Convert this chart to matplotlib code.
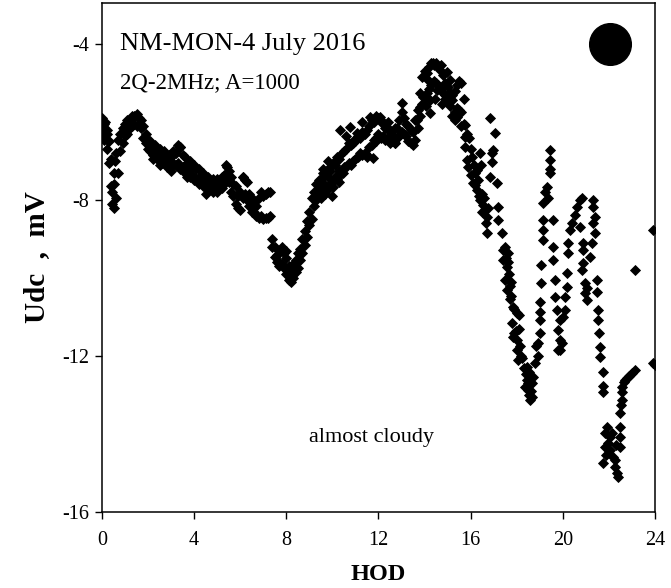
import numpy as np
import matplotlib
matplotlib.use('Agg')
import matplotlib.pyplot as plt

plt.rcParams['font.family'] = 'Liberation Serif'
plt.rcParams['axes.unicode_minus'] = False

# dense part of the record, read every 0.1 h: upper and lower edge of the band
dense_hod = np.round(np.arange(0, 15.75, 0.1), 1)
udc_hi = [-5.9, -6.05, -6.2, -6.5, -6.95, -7.3, -6.8, -6.45, -6.3, -6.15,
          -6.05, -5.95, -5.95, -5.85, -5.85, -5.8, -5.9, -5.95, -6.1, -6.3,
          -6.45, -6.5, -6.65, -6.6, -6.75, -6.7, -6.8, -6.75, -6.9, -6.85,
          -6.9, -6.75, -6.8, -6.6, -6.65, -6.85, -6.9, -7.05, -7.0, -7.15,
          -7.1, -7.2, -7.2, -7.35, -7.3, -7.4, -7.4, -7.5, -7.45, -7.55,
          -7.5, -7.55, -7.4, -7.35, -7.1, -7.25, -7.4, -7.6, -7.65, -7.9,
          -7.8, -7.4, -7.5, -7.55, -7.85, -7.95, -8.05, -8.15, -7.95, -7.8,
          -7.9, -7.85, -7.8, -7.8, -9.0, -9.2, -9.4, -9.3, -9.2, -9.35,
          -9.5, -9.7, -9.85, -9.65, -9.55, -9.35, -9.25, -9.0, -8.8, -8.55,
          -8.3, -7.95, -7.8, -7.6, -7.5, -7.45, -7.3, -7.35, -7.2, -7.25,
          -7.1, -7.0, -6.9, -6.95, -6.8, -6.75, -6.7, -6.55, -6.6, -6.55,
          -6.5, -6.35, -6.4, -6.25, -6.3, -6.2, -6.1, -5.95, -6.0, -5.85,
          -5.9, -6.0, -6.0, -6.15, -6.2, -6.2, -6.3, -6.15, -6.15, -5.95,
          -5.75, -5.9, -6.05, -6.1, -6.2, -6.25, -5.95, -5.7, -5.25, -4.85,
          -4.7, -4.75, -4.6, -4.5, -4.55, -4.5, -4.6, -4.55, -4.8, -5.0,
          -5.1, -5.25, -5.3, -5.2, -5.05, -4.95, -5.0, -5.4]
udc_lo = [-6.25, -6.45, -6.7, -7.05, -7.65, -8.2, -7.95, -7.3, -6.75, -6.55,
          -6.35, -6.3, -6.15, -6.1, -6.05, -6.1, -6.05, -6.15, -6.4, -6.55,
          -6.7, -6.75, -6.85, -6.8, -6.95, -6.95, -7.05, -7.0, -7.15, -7.1,
          -7.15, -7.05, -7.1, -7.05, -7.2, -7.15, -7.3, -7.25, -7.4, -7.35,
          -7.5, -7.45, -7.6, -7.55, -7.65, -7.6, -7.75, -7.65, -7.8, -7.75,
          -7.8, -7.7, -7.7, -7.6, -7.5, -7.55, -7.8, -7.9, -8.1, -8.2,
          -8.25, -7.95, -7.85, -8.0, -8.15, -8.3, -8.3, -8.4, -8.45, -8.4,
          -8.5, -8.45, -8.45, -8.4, -9.2, -9.45, -9.6, -9.6, -9.65, -9.75,
          -9.9, -10.05, -10.1, -10.0, -9.85, -9.75, -9.55, -9.35, -9.15, -8.95,
          -8.65, -8.5, -8.15, -8.0, -7.9, -7.95, -7.8, -7.85, -7.7, -7.65,
          -7.55, -7.4, -7.4, -7.25, -7.3, -7.15, -7.15, -7.05, -7.1, -7.0,
          -6.95, -6.9, -6.8, -6.85, -6.8, -6.9, -6.65, -6.6, -6.45, -6.4,
          -6.3, -6.4, -6.35, -6.45, -6.4, -6.55, -6.5, -6.55, -6.4, -6.35,
          -6.25, -6.3, -6.35, -6.5, -6.55, -6.6, -6.45, -6.15, -5.85, -5.55,
          -5.35, -5.25, -5.15, -5.05, -4.95, -5.0, -5.05, -5.15, -5.25, -5.4,
          -5.45, -5.6, -5.85, -5.75, -5.65, -5.7, -5.75, -6.05]

# extra points that stick out of the band
extra_hod = [0.13, 0.2, 0.25, 0.42, 0.45, 0.5, 0.55, 3.39, 5.43, 6.12,
             7.7, 8.0, 8.3, 9.55, 9.65, 9.77, 9.9, 10.03, 10.2, 10.33,
             10.45, 10.6, 10.76, 10.95, 11.07, 11.3, 11.5, 11.63, 11.76, 11.9,
             12.07, 12.4, 12.7, 13.02, 13.67, 13.8, 13.93, 14.05, 14.15, 14.24,
             14.24, 14.37, 14.45, 14.54, 14.67, 14.75, 14.89, 14.97, 15.1, 15.19,
             15.3, 15.41, 15.6, 9.6, 9.8, 10.1, 10.3, 9.4, 10.0, 2.5,
             3.0, 4.5, 5.0, 2.2, 3.7]
extra_udc = [-6.0, -6.3, -6.5, -8.1, -7.8, -7.6, -7.0, -6.64, -7.15, -7.41,
             -9.7, -9.3, -9.9, -7.87, -7.6, -7.74, -7.45, -7.67, -7.45, -6.2,
             -7.3, -6.35, -6.13, -6.45, -6.28, -6.0, -6.85, -5.87, -6.92, -6.5,
             -5.87, -6.0, -6.55, -5.51, -5.95, -5.62, -5.36, -5.6, -4.92, -5.44,
             -5.77, -4.49, -5.4, -5.18, -4.67, -5.55, -5.3, -4.72, -4.92, -5.44,
             -5.95, -5.87, -6.1, -7.2, -7.0, -7.1, -7.55, -7.7, -7.9, -7.1,
             -7.25, -7.85, -7.45, -6.95, -7.4]

# sparse evening part (after ~15.7 h)
late_hod = [15.76, 15.76, 15.76, 15.84, 15.89, 16.01, 16.1, 16.2, 16.28, 16.41,
            16.48, 16.54, 16.62, 16.71, 16.71, 16.41, 16.28, 16.45, 16.84, 16.93,
            16.93, 16.84, 17.06, 16.97, 17.14, 17.19, 17.19, 17.36, 17.4, 17.62,
            17.4, 17.58, 17.49, 17.58, 17.7, 17.84, 18.01, 17.8, 17.84, 17.95,
            18.01, 18.06, 18.2, 18.3, 18.45, 18.45, 18.35, 18.49, 18.58, 18.55,
            18.71, 18.79, 18.85, 17.5, 17.55, 17.65, 17.7, 17.75, 17.9, 18.1,
            17.9, 18.0, 18.15, 18.25, 18.4, 18.5, 18.62, 18.68, 18.65,
            18.92, 18.92, 19.01, 19.01, 19.01, 19.01, 19.05, 19.05, 19.14, 19.14,
            19.14, 19.14, 19.23, 19.31, 19.36, 19.44, 19.44, 19.44, 19.44,
            19.57, 19.57, 19.57, 19.66, 19.66, 19.75, 19.79, 19.79, 19.88, 19.88,
            19.88, 19.97, 20.01, 20.1, 20.1, 20.18, 20.18, 20.23, 20.23, 20.31,
            20.4, 20.53, 20.62, 20.75, 20.83, 20.75, 20.88, 20.88, 20.88, 20.83,
            20.96, 20.96, 21.05, 21.31, 21.31, 21.4, 21.31, 21.4, 21.27, 21.18,
            21.05, 21.48, 21.48, 21.53, 21.53, 21.57, 21.61, 21.61, 21.74, 21.74,
            21.74, 21.92, 21.83, 21.83, 21.96, 22.05, 22.14, 21.74, 21.88, 22.05,
            22.18, 22.27, 22.27, 22.35, 22.4, 22.31, 22.48, 22.48, 22.48, 22.48,
            22.53, 22.57, 22.57, 22.57, 22.66, 22.7, 22.79, 22.87, 22.92, 23.0,
            23.13, 23.13, 23.91, 23.91, 24.0,
            15.95, 16.05, 16.15, 16.0, 16.3, 16.35, 16.6, 16.65, 16.5, 15.85,
            16.2, 16.75, 17.6, 17.75, 18.1, 18.55]
late_udc = [-6.08, -6.38, -6.64, -6.97, -7.15, -7.35, -7.56, -7.62, -7.74, -8.0,
            -7.85, -8.13, -8.25, -8.44, -8.85, -6.79, -7.23, -7.1, -7.41, -7.03,
            -6.79, -5.9, -6.28, -6.72, -7.56, -8.18, -8.51, -8.85, -9.28, -9.36,
            -9.54, -9.72, -10.05, -10.31, -10.55, -10.74, -10.9, -11.15, -11.51, -11.35,
            -11.85, -12.1, -12.0, -12.3, -12.28, -12.62, -12.8, -12.87, -13.13, -13.0,
            -12.54, -12.18, -11.75, -9.2, -9.5, -9.9, -10.2, -10.45, -10.8, -10.95,
            -11.4, -11.6, -11.75, -12.05, -12.45, -12.7, -12.9, -12.7, -13.05,
            -12.0, -11.67, -11.41, -11.08, -10.87, -10.61, -10.13, -9.67, -9.03, -8.77,
            -8.51, -8.08, -7.79, -7.67, -7.94, -6.72, -6.97, -7.2, -7.31,
            -8.51, -9.2, -9.54, -10.05, -10.49, -10.82, -11.33, -11.85, -11.08, -11.59,
            -11.85, -11.67, -11.0, -10.82, -10.49, -10.23, -9.87, -9.36, -9.1, -8.77,
            -8.59, -8.38, -8.18, -8.0, -7.95, -8.69, -9.1, -9.28, -9.62, -9.79,
            -10.13, -10.38, -10.26, -8.0, -8.18, -8.44, -8.59, -8.85, -9.1, -9.46,
            -10.56, -10.05, -10.36, -10.82, -11.08, -11.41, -11.77, -12.03, -12.41, -12.92,
            -12.77, -13.82, -13.97, -14.33, -14.23, -14.08, -13.97, -14.74, -14.54, -14.41,
            -14.59, -14.67, -14.85, -15.0, -15.1, -14.28, -14.33, -14.08, -13.82, -13.46,
            -13.26, -13.13, -12.92, -12.79, -12.67, -12.62, -12.56, -12.51, -12.49, -12.44,
            -12.36, -9.79, -8.77, -12.18, -12.23,
            -6.4, -6.9, -7.1, -6.7, -7.5, -7.9, -7.95, -8.6, -8.3, -6.3,
            -7.3, -8.2, -9.6, -10.1, -11.3, -12.4]

x_ticks = [0, 4, 8, 12, 16, 20, 24]
y_ticks = [-16, -12, -8, -4]

fig = plt.figure(figsize=(6.71, 5.88), dpi=100)
ax = fig.add_axes([0.152, 0.1293, 0.8241, 0.8656])

mk = dict(ls='none', marker='D', ms=5.0, color='black', mec='black', mew=0.6)
ax.plot(dense_hod, udc_hi, **mk)
ax.plot(dense_hod, udc_lo, **mk)
ax.plot(extra_hod, extra_udc, **mk)
ax.plot(late_hod, late_udc, **mk)

# sun symbol
ax.plot([22.07], [-3.99], ls='none', marker='o', ms=30, color='black')

ax.set_xlim(0, 24)
ax.set_ylim(-16, -2.95)
ax.set_xticks(x_ticks)
ax.set_yticks(y_ticks)
ax.tick_params(direction='out', length=5, width=1, labelsize=14.5, colors='black')
ax.tick_params(axis='x', pad=9)
ax.tick_params(axis='y', pad=4)
for s in ax.spines.values():
    s.set_linewidth(1.1)

ax.text(0.033, 0.92, 'NM-MON-4 July 2016', transform=ax.transAxes, fontsize=19,
        va='center', ha='left')
ax.text(0.033, 0.843, '2Q-2MHz; A=1000', transform=ax.transAxes, fontsize=16.5,
        va='center', ha='left')
ax.text(11.68, -14.08, 'almost cloudy', fontsize=16, ha='center', va='center')

ax.set_xlabel('HOD', fontsize=17.5, fontweight='bold', labelpad=10)
ax.set_ylabel('Udc  ,  mV', fontsize=21, fontweight='bold', labelpad=9)

fig.savefig('out.png', dpi=100)
